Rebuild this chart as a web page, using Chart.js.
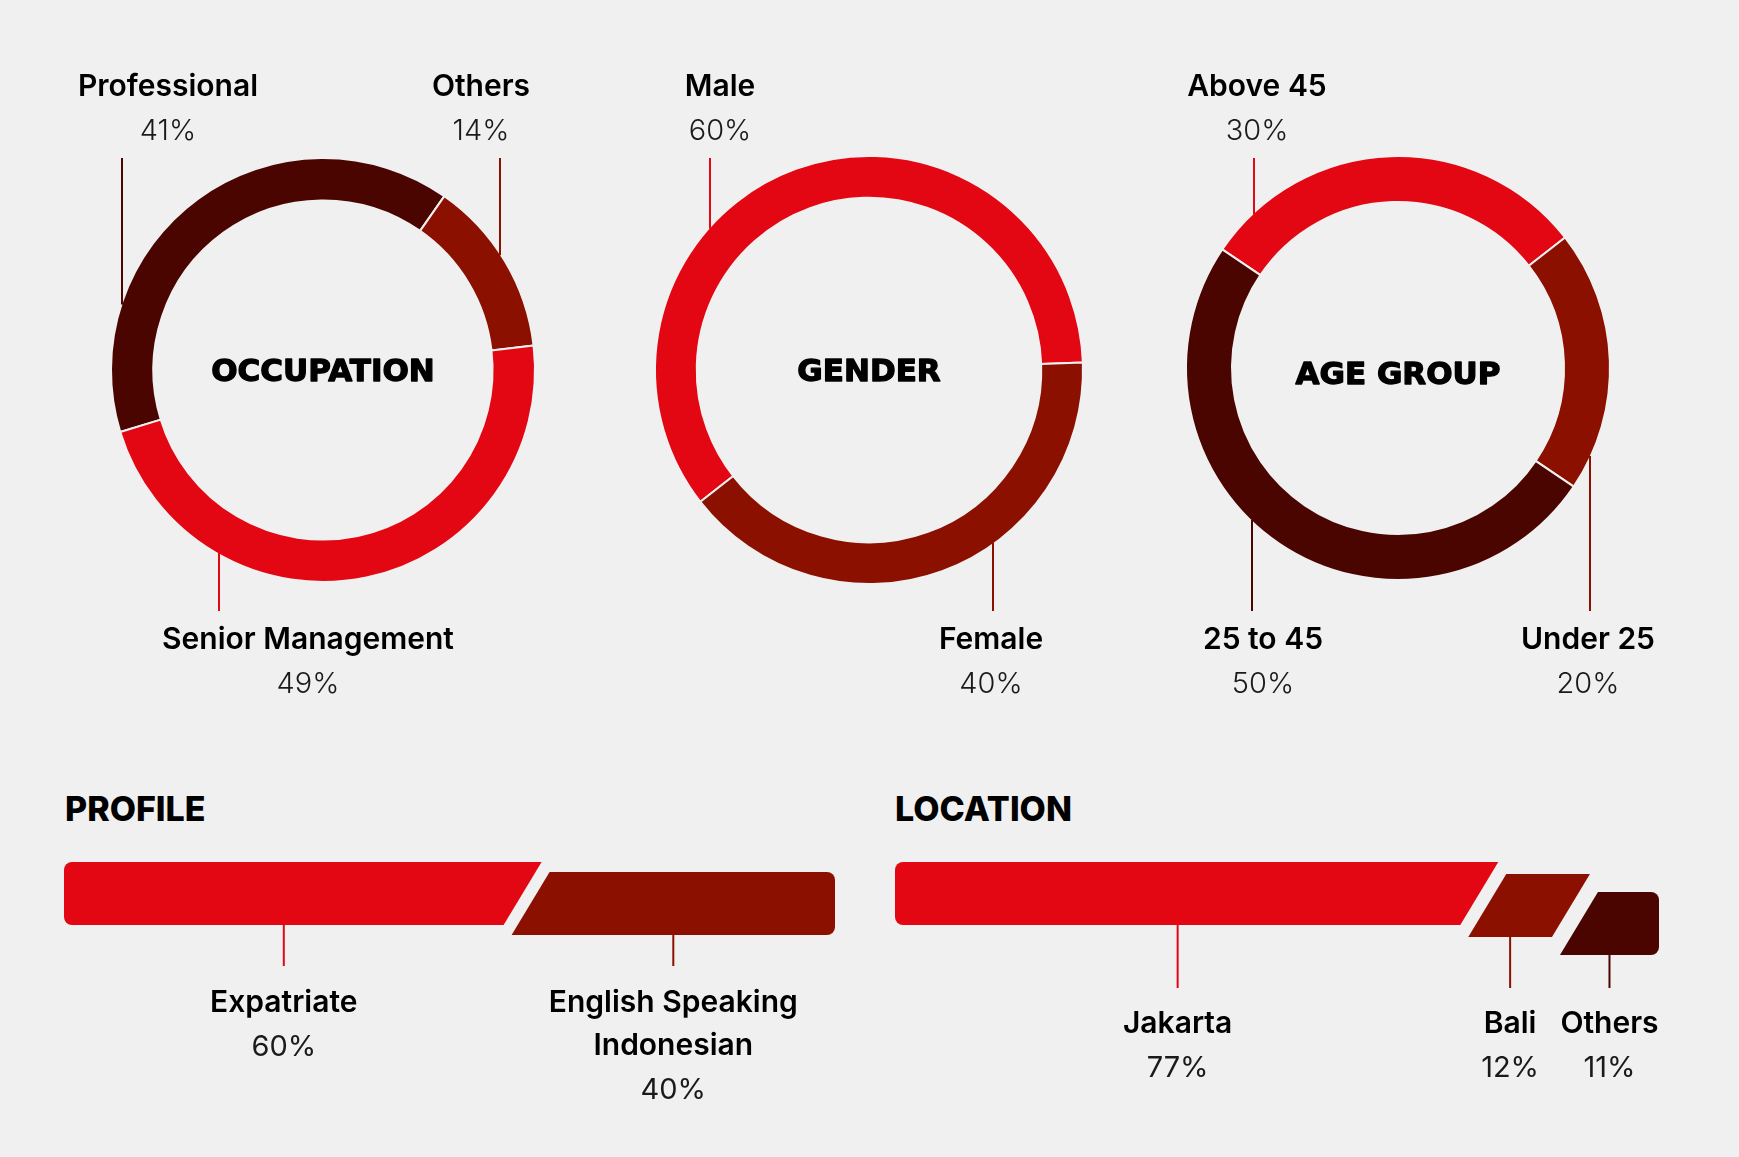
<!DOCTYPE html>
<html>
<head>
<meta charset="utf-8">
<script src="https://cdn.jsdelivr.net/npm/chart.js@4.4.1/dist/chart.umd.min.js"></script>
<style>
  html, body { margin: 0; padding: 0; background: #f0f0f0; }
  body { width: 1739px; height: 1157px; position: relative; overflow: hidden; }
  canvas { position: absolute; }
  .heading { position: absolute; margin: 0; font: 800 34px Inter, sans-serif; line-height: 34px; color: #000; }
</style>
</head>
<body>
<canvas id="occupationChart" width="580" height="720" style="left:33px;top:0"></canvas>
<canvas id="genderChart" width="580" height="720" style="left:579px;top:0"></canvas>
<canvas id="ageChart" width="580" height="720" style="left:1108px;top:0"></canvas>
<div class="heading" style="left:65px;top:792px">PROFILE</div>
<div class="heading" style="left:895px;top:792px">LOCATION</div>
<canvas id="profileChart" width="870" height="397" style="left:0;top:760px"></canvas>
<canvas id="locationChart" width="869" height="397" style="left:870px;top:760px"></canvas>
<script>
// Dữ liệu
const occupationLabels = ['Professional', 'Others', 'Senior Management'];
const occupationValues = [41, 14, 49];

const genderLabels = ['Male', 'Female'];
const genderValues = [60, 40];

const ageLabels = ['Above 45', 'Under 25', '25 to 45'];
const ageValues = [30, 20, 50];

const profileLabels = [['Expatriate'], ['English Speaking', 'Indonesian']];
const profileValues = [60, 40];

const locationLabels = [['Jakarta'], ['Bali'], ['Others']];
const locationValues = [77, 12, 11];

// Màu sắc
const RED = '#e30613';
const MID = '#8b1000';
const DARK = '#4a0500';
const BG = '#f0f0f0';

const LABEL_FONT = '600 30px Inter, sans-serif';
const PCT_FONT = '300 29px Inter, sans-serif';

// Nhãn và đường dẫn cho biểu đồ tròn
const donutLabels = {
    id: 'donutLabels',
    afterDraw(chart, args, opts) {
        const ctx = chart.ctx;
        const meta = chart.getDatasetMeta(0);
        const arc = meta.data[0];
        const cx = arc.x, cy = arc.y, R = arc.outerRadius;
        const ds = chart.data.datasets[0];

        ctx.save();
        // Tiêu đề giữa vòng (tô đậm thêm bằng nét viền)
        ctx.font = 'bold 31px "DejaVu Sans", sans-serif';
        ctx.textAlign = 'center';
        ctx.textBaseline = 'middle';
        ctx.fillStyle = '#000';
        ctx.strokeStyle = '#000';
        ctx.lineWidth = 1.3;
        ctx.lineJoin = 'round';
        ctx.fillText(opts.title, cx, cy + (opts.titleDy || 0));
        ctx.strokeText(opts.title, cx, cy + (opts.titleDy || 0));

        opts.items.forEach((item, i) => {
            const lx = cx + item.lineDx;
            const dy = Math.sqrt(Math.max(R * R - item.lineDx * item.lineDx, 0));
            ctx.strokeStyle = ds.backgroundColor[i];
            ctx.lineWidth = 2;
            ctx.beginPath();
            if (item.side === 'top') {
                ctx.moveTo(lx, opts.topLineY);
                ctx.lineTo(lx, cy - dy + 2);
            } else {
                ctx.moveTo(lx, cy + dy - 2);
                ctx.lineTo(lx, opts.bottomLineY);
            }
            ctx.stroke();

            const tx = cx + item.textDx;
            const nameY = item.side === 'top' ? opts.topNameY : opts.bottomNameY;
            ctx.fillStyle = '#000';
            ctx.font = LABEL_FONT;
            ctx.fillText(chart.data.labels[i], tx, nameY);
            ctx.fillStyle = '#1a1a1a';
            ctx.font = PCT_FONT;
            ctx.fillText(ds.data[i] + '%', tx, nameY + 44);
        });
        ctx.restore();
    }
};

function makeDonut(id, labels, values, colors, cfg) {
    const canvas = document.getElementById(id);
    const H = canvas.height, W = canvas.width;
    return new Chart(canvas, {
        type: 'doughnut',
        data: {
            labels: labels,
            datasets: [{
                data: values,
                backgroundColor: colors,
                borderColor: BG,
                borderWidth: 2
            }]
        },
        options: {
            responsive: false,
            animation: false,
            rotation: cfg.rotation,
            cutout: cfg.cutout,
            radius: cfg.radius,
            layout: {
                padding: {
                    left: W / 2 - 230,
                    right: W / 2 - 230,
                    top: cfg.cy - 230,
                    bottom: H - cfg.cy - 230
                }
            },
            plugins: {
                legend: { display: false },
                tooltip: { enabled: false },
                donutLabels: {
                    title: cfg.title,
                    titleDy: cfg.titleDy,
                    items: cfg.items,
                    topLineY: 158,
                    bottomLineY: 611,
                    topNameY: 87,
                    bottomNameY: 640
                }
            }
        },
        plugins: [donutLabels]
    });
}

makeDonut('occupationChart', occupationLabels, occupationValues, [DARK, MID, RED], {
    cy: 370, radius: 212, cutout: '80%', rotation: 253, title: 'OCCUPATION', titleDy: 3,
    items: [
        { side: 'top', lineDx: -201, textDx: -155 },
        { side: 'top', lineDx: 177, textDx: 158 },
        { side: 'bottom', lineDx: -104, textDx: -15 }
    ]
});

makeDonut('genderChart', genderLabels, genderValues, [RED, MID], {
    cy: 370, radius: 214, cutout: '80.5%', rotation: 232, title: 'GENDER', titleDy: 3,
    items: [
        { side: 'top', lineDx: -159, textDx: -149 },
        { side: 'bottom', lineDx: 124, textDx: 122 }
    ]
});

makeDonut('ageChart', ageLabels, ageValues, [RED, MID, DARK], {
    cy: 368, radius: 212, cutout: '78.3%', rotation: -56, title: 'AGE GROUP', titleDy: 8,
    items: [
        { side: 'top', lineDx: -144, textDx: -141 },
        { side: 'bottom', lineDx: 192, textDx: 190 },
        { side: 'bottom', lineDx: -146, textDx: -135 }
    ]
});

// Thanh ngang dạng hình bình hành
const slantBars = {
    id: 'slantBars',
    beforeDatasetsDraw(chart, args, opts) {
        const ctx = chart.ctx;
        const n = chart.data.datasets.length;
        const half = opts.slant / 2, g = opts.gap / 2, r = opts.radius;

        ctx.save();
        chart.data.datasets.forEach((ds, i) => {
            const bar = chart.getDatasetMeta(i).data[0];
            const h = bar.height;
            const top = bar.y - h / 2 + opts.drops[i];
            const bottom = top + h;
            const left = Math.min(bar.base, bar.x);
            const right = Math.max(bar.base, bar.x);

            const tl = i === 0 ? left : left + half + g;
            const bl = i === 0 ? left : left - half + g;
            const tr = i === n - 1 ? right : right + half - g;
            const br = i === n - 1 ? right : right - half - g;

            ctx.fillStyle = ds.backgroundColor;
            ctx.beginPath();
            if (i === 0) {
                ctx.moveTo(tl + r, top);
            } else {
                ctx.moveTo(tl, top);
            }
            if (i === n - 1) {
                ctx.lineTo(tr - r, top);
                ctx.arcTo(tr, top, tr, top + r, r);
                ctx.lineTo(br, bottom - r);
                ctx.arcTo(br, bottom, br - r, bottom, r);
            } else {
                ctx.lineTo(tr, top);
                ctx.lineTo(br, bottom);
            }
            if (i === 0) {
                ctx.lineTo(bl + r, bottom);
                ctx.arcTo(bl, bottom, bl, bottom - r, r);
                ctx.lineTo(tl, top + r);
                ctx.arcTo(tl, top, tl + r, top, r);
            } else {
                ctx.lineTo(bl, bottom);
            }
            ctx.closePath();
            ctx.fill();

            // Đường dẫn và nhãn
            const lx = (bl + br) / 2;
            ctx.strokeStyle = ds.backgroundColor;
            ctx.lineWidth = 2;
            ctx.beginPath();
            ctx.moveTo(lx, bottom - 1);
            ctx.lineTo(lx, opts.lineEndY);
            ctx.stroke();

            ctx.textAlign = 'center';
            ctx.textBaseline = 'middle';
            let y = opts.nameY;
            ctx.fillStyle = '#000';
            ctx.font = LABEL_FONT;
            ds.label.forEach(line => {
                ctx.fillText(line, lx, y);
                y += 43;
            });
            ctx.fillStyle = '#1a1a1a';
            ctx.font = '400 29px Inter, sans-serif';
            ctx.fillText(ds.data[0] + '%', lx, y + 1);
        });
        ctx.restore();
        return false;
    }
};

function makeBar(id, labels, values, colors, cfg) {
    const canvas = document.getElementById(id);
    return new Chart(canvas, {
        type: 'bar',
        data: {
            labels: [''],
            datasets: values.map((v, i) => ({
                label: labels[i],
                data: [v],
                backgroundColor: colors[i],
                barPercentage: 1,
                categoryPercentage: 1
            }))
        },
        options: {
            indexAxis: 'y',
            responsive: false,
            animation: false,
            layout: { padding: cfg.padding },
            scales: {
                x: { stacked: true, min: 0, max: 100, display: false },
                y: { stacked: true, display: false }
            },
            plugins: {
                legend: { display: false },
                tooltip: { enabled: false },
                slantBars: {
                    slant: 38,
                    gap: 8,
                    radius: 8,
                    drops: cfg.drops,
                    lineEndY: cfg.lineEndY,
                    nameY: cfg.nameY
                }
            }
        },
        plugins: [slantBars]
    });
}

makeBar('profileChart', profileLabels, profileValues, [RED, MID], {
    padding: { left: 64, right: 35, top: 102, bottom: 232 },
    drops: [0, 10],
    lineEndY: 206,
    nameY: 243
});

makeBar('locationChart', locationLabels, locationValues, [RED, MID, DARK], {
    padding: { left: 25, right: 80, top: 102, bottom: 232 },
    drops: [0, 12, 30],
    lineEndY: 228,
    nameY: 264
});
</script>
</body>
</html>
